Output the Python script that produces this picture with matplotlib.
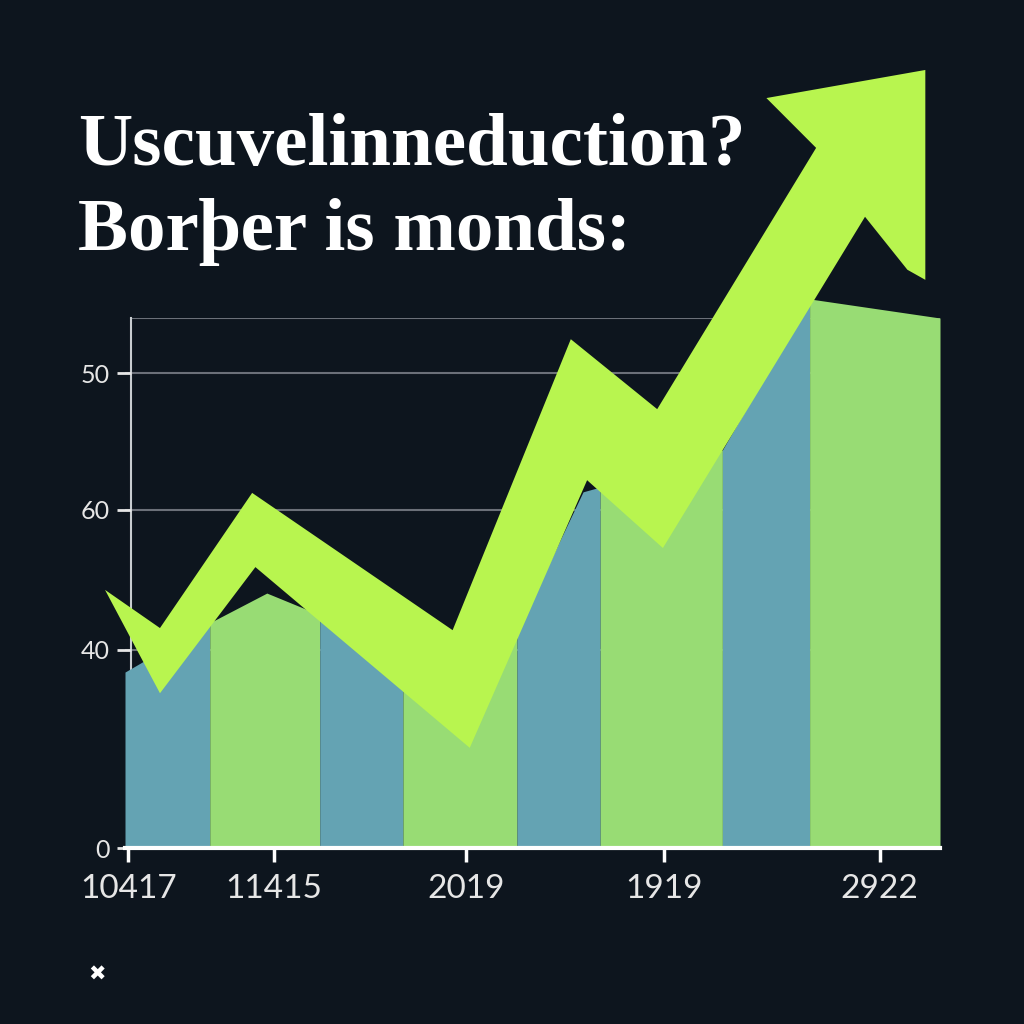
import numpy as np
import matplotlib.pyplot as plt

# colours
bg = '#0d151e'
lime = '#b8f54f'
band_colors = ['#64a3b3', '#98dc74']

# area chart (x in 0..100 plot units, y in plot units)
band_edges = [0, 10.4, 23.9, 34.1, 48.1, 58.3, 73.3, 84.0, 100]
area_x = [0, 10.4, 17.4, 23.9, 34.1, 48.1, 56.2, 58.3, 73.3, 84.0, 100]
area_y = [33.2, 42.5, 48.1, 44.0, 33.5, 41.0, 67.2, 68.1, 75.1, 103.6, 100]

# big trend arrow outline
arrow_x = [-2.45, 4.29, 15.6, 40.2, 54.7, 65.3, 84.8, 78.7, 98.2, 98.2, 96.0,
           90.8, 66.0, 56.7, 42.3, 16.0, 4.29]
arrow_y = [48.7, 41.5, 67.0, 41.1, 96.0, 82.8, 132.1, 141.5, 146.8, 107.2, 109.1,
           119.1, 56.6, 69.4, 18.9, 53.0, 29.2]

# axis ticks
ytick_pos = [0, 37.4, 63.8, 89.6]
ytick_labels = ['0', '40', '60', '50']
xtick_pos = [0.4, 18.3, 41.8, 66.1, 92.6]
xtick_labels = ['10417', '11415', '2019', '1919', '2922']

title_lines = ['Uscuvelinneduction?', 'Borþer is monds:']

fig = plt.figure(figsize=(10.24, 10.24), dpi=100, facecolor=bg)
ax = fig.add_axes([125 / 1024, 176 / 1024, 815 / 1024, 530 / 1024])
ax.set_facecolor(bg)
ax.set_xlim(0, 100)
ax.set_ylim(0, 100)

# alternating coloured bands under the area line
for i in range(len(band_edges) - 1):
    lo, hi = band_edges[i], band_edges[i + 1]
    xs = [lo] + [x for x in area_x if lo < x < hi] + [hi]
    ys = np.interp(xs, area_x, area_y)
    ax.fill_between(xs, 0, ys, color=band_colors[i % 2], lw=0,
                    clip_on=False, zorder=2)

ax.fill(arrow_x, arrow_y, color=lime, lw=0, zorder=3, clip_on=False)

# grid / frame
for y in ytick_pos[1:]:
    ax.axhline(y, color='#6b7079', lw=1.5, zorder=0.6)
ax.axhline(100, xmin=0.007, color='#6b7079', lw=1.5, zorder=0.6)

for s in ['top', 'right']:
    ax.spines[s].set_visible(False)
ax.spines['left'].set_position(('data', 0.7))
ax.spines['left'].set_color('#c8ccd0')
ax.spines['left'].set_linewidth(1.5)
ax.spines['left'].set_zorder(0.7)
ax.spines['bottom'].set_color('white')
ax.spines['bottom'].set_linewidth(3)
ax.spines['bottom'].set_zorder(4)

ax.set_yticks(ytick_pos)
ax.set_yticklabels(ytick_labels)
ax.set_xticks(xtick_pos)
ax.set_xticklabels(xtick_labels)
ax.tick_params(axis='y', length=10, width=2, color='#e6e6e6', pad=5,
               labelsize=18, labelcolor='#e6e6e6')
ax.tick_params(axis='x', length=10, width=2.5, color='white', pad=9,
               labelsize=24, labelcolor='#e6e6e6')
for lab in ax.get_xticklabels() + ax.get_yticklabels():
    lab.set_family('Lato')

# title
fig.text(78 / 1024, 1 - 165 / 1024, title_lines[0], va='baseline', ha='left',
         fontsize=54, fontweight='bold', family='Liberation Serif', color='white')
fig.text(78 / 1024, 1 - 250 / 1024, title_lines[1], va='baseline', ha='left',
         fontsize=54, fontweight='bold', family='Liberation Serif', color='white')

fig.text(97 / 1024, 1 - 975 / 1024, '\u2716', ha='center', va='center',
         fontsize=15, color='white', family='DejaVu Sans')

fig.savefig('out.png', dpi=100, facecolor=bg)
